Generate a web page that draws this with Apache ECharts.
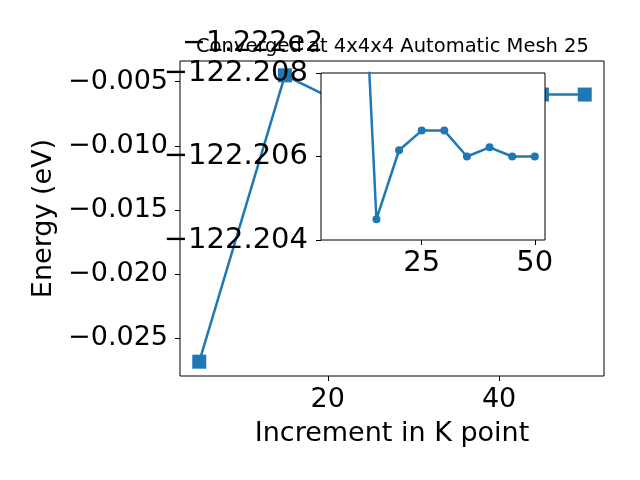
<!DOCTYPE html>
<html>
<head>
<meta charset="utf-8">
<script src="https://cdn.jsdelivr.net/npm/echarts@6/dist/echarts.min.js"></script>
<style>html,body{margin:0;padding:0;background:#fff}#c{width:640px;height:480px}</style>
</head>
<body>
<div id="c"></div>
<script>
var kpoints = [5, 15, 20, 25, 30, 35, 40, 45, 50];
var energies = [-122.22684, -122.2045, -122.20615, -122.20662, -122.20662, -122.20600, -122.20622, -122.20600, -122.20600];
var OFFSET = -122.2;
var offsetText = '\u22121.222e2';
var titleText = 'Converged at 4x4x4 Automatic Mesh 25';
var xName = 'Increment in K point';
var yName = 'Energy (eV)';
var mainYTicks = [-0.025, -0.020, -0.015, -0.010, -0.005];
var mainXTicks = [20, 40];
var insetYTicks = [-122.208, -122.206, -122.204];
var insetXTicks = [25, 50];

var FONT = 'DejaVu Sans';
var C = '#1f77b4';
function fmt(v, d) { var s = Math.abs(v).toFixed(d); return (v < 0 ? '\u2212' : '') + s; }

var mainY = energies.map(function (e) { return +(e - OFFSET).toFixed(6); });
var mainData = kpoints.map(function (k, i) { return [k, mainY[i]]; });
var insetData = kpoints.map(function (k, i) { return [k, energies[i]]; });

var xmin = Math.min.apply(null, kpoints), xmax = Math.max.apply(null, kpoints);
var xr = xmax - xmin;
var ymin = Math.min.apply(null, mainY), ymax = Math.max.apply(null, mainY);
var yr = ymax - ymin;

var chart = echarts.init(document.getElementById('c'), null, {renderer: 'canvas'});
chart.setOption({
  animation: false,
  backgroundColor: '#fff',
  textStyle: {fontFamily: FONT},
  grid: [
    {left: 180, top: 61, right: 36, bottom: 104, show: true, backgroundColor: '#fff', borderColor: '#000', borderWidth: 1, z: 0},
    {left: 321, top: 73, width: 224, height: 167, show: true, backgroundColor: '#fff', borderColor: '#000', borderWidth: 1, z: 5}
  ],
  xAxis: [
    {type: 'value', gridIndex: 0, min: xmin - 0.05 * xr, max: xmax + 0.05 * xr, z: 1,
     name: xName, nameLocation: 'middle', nameGap: 44,
     nameTextStyle: {fontFamily: FONT, fontSize: 27, color: '#000'},
     axisLine: {show: false}, splitLine: {show: false},
     axisTick: {show: true, inside: false, length: 5, lineStyle: {color: '#000'}, customValues: mainXTicks},
     axisLabel: {fontFamily: FONT, fontSize: 27, color: '#000', margin: 10, customValues: mainXTicks, formatter: function (v) { return String(v); }}},
    {type: 'value', gridIndex: 1, min: xmin - 0.05 * xr, max: xmax + 0.05 * xr, z: 7,
     axisLine: {show: false}, splitLine: {show: false},
     axisTick: {show: true, inside: false, length: 5, lineStyle: {color: '#000'}, customValues: insetXTicks},
     axisLabel: {fontFamily: FONT, fontSize: 29, color: '#000', margin: 9, customValues: insetXTicks, formatter: function (v) { return String(v); }}}
  ],
  yAxis: [
    {type: 'value', gridIndex: 0, min: ymin - 0.05 * yr, max: ymax + 0.05 * yr, z: 1,
     name: yName, nameLocation: 'middle', nameGap: 119, nameRotate: 90,
     nameTextStyle: {fontFamily: FONT, fontSize: 27, color: '#000'},
     axisLine: {show: false}, splitLine: {show: false},
     axisTick: {show: true, inside: false, length: 5, lineStyle: {color: '#000'}, customValues: mainYTicks},
     axisLabel: {fontFamily: FONT, fontSize: 27, color: '#000', margin: 12, customValues: mainYTicks, formatter: function (v) { return fmt(v, 3); }}},
    {type: 'value', gridIndex: 1, min: -122.208, max: -122.204, inverse: true, z: 7,
     axisLine: {show: false}, splitLine: {show: false},
     axisTick: {show: true, inside: false, length: 5, lineStyle: {color: '#000'}, customValues: insetYTicks},
     axisLabel: {fontFamily: FONT, fontSize: 29, color: '#000', margin: 13, customValues: insetYTicks, formatter: function (v) { return fmt(v, 3); }}}
  ],
  series: [
    {type: 'line', xAxisIndex: 0, yAxisIndex: 0, data: mainData, z: 2, clip: true,
     symbol: 'rect', symbolSize: 14, showAllSymbol: true,
     lineStyle: {color: C, width: 2.5}, itemStyle: {color: C, borderWidth: 0}},
    {type: 'line', xAxisIndex: 1, yAxisIndex: 1, data: insetData, z: 6, clip: true,
     symbol: 'circle', symbolSize: 8, showAllSymbol: true,
     lineStyle: {color: C, width: 2.5}, itemStyle: {color: C, borderWidth: 0}}
  ],
  graphic: [
    {type: 'text', z: 100, left: 196, top: 37, style: {text: titleText, font: '19.5px "DejaVu Sans"', fill: '#000'}},
    {type: 'text', z: 100, left: 182, top: 29, style: {text: offsetText, font: '28.5px "DejaVu Sans"', fill: '#000'}}
  ]
});
</script>
</body>
</html>
